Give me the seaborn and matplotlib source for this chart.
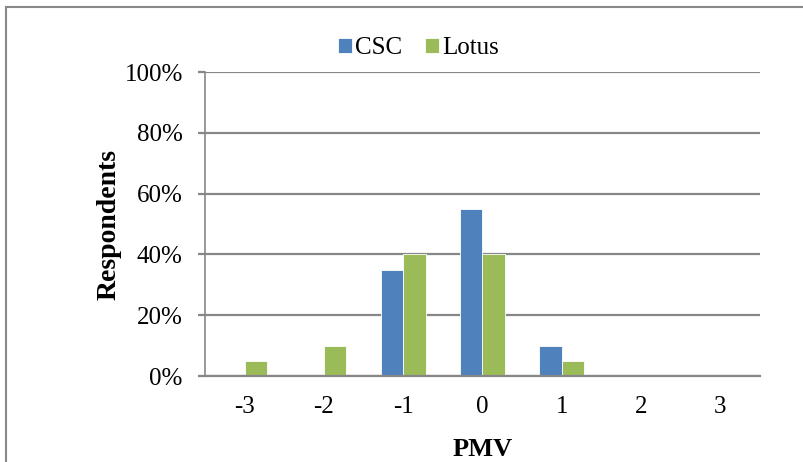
import matplotlib
matplotlib.use("Agg")
import matplotlib.pyplot as plt
from matplotlib.patches import Rectangle
from matplotlib.ticker import PercentFormatter
import seaborn as sns
import pandas as pd

# data
pmv = ["-3", "-2", "-1", "0", "1", "2", "3"]
csc = [0.00, 0.00, 0.35, 0.55, 0.10, 0.00, 0.00]
lotus = [0.05, 0.10, 0.40, 0.40, 0.05, 0.00, 0.00]
series = ["CSC", "Lotus"]
colors = ["#4F81BD", "#9BBB59"]

df = pd.DataFrame({
    "PMV": pmv * 2,
    "value": csc + lotus,
    "site": [series[0]] * len(pmv) + [series[1]] * len(pmv),
})

sns.set_style("white")
plt.rcParams['font.family'] = ['Liberation Serif', 'DejaVu Serif']
plt.rcParams['text.color'] = 'black'
plt.rcParams['axes.labelcolor'] = 'black'

fig = plt.figure(figsize=(8.04, 4.62), dpi=100)
ax = fig.add_axes([0.255, 0.186, 0.69, 0.658])

sns.barplot(data=df, x="PMV", y="value", hue="site", order=pmv,
            hue_order=series, palette=colors, width=0.57, ax=ax,
            edgecolor="white", linewidth=0.6, saturation=1)

ax.set_ylim(0, 1)
ax.set_yticks([0, 0.2, 0.4, 0.6, 0.8, 1.0])
ax.yaxis.set_major_formatter(PercentFormatter(1.0, decimals=0))
ax.grid(axis="y", color="#878787", linewidth=1.6)
ax.set_axisbelow(True)
for s in ["top", "right"]:
    ax.spines[s].set_visible(False)
ax.spines["left"].set_color("#878787")
ax.spines["bottom"].set_color("#878787")
ax.spines["left"].set_linewidth(1.2)
ax.spines["bottom"].set_linewidth(1.6)
ax.tick_params(axis="y", length=5, width=1.6, color="#878787", labelcolor="black",
               labelsize=18, pad=11, left=True)
ax.tick_params(axis="x", length=0, labelsize=18, labelcolor="black", pad=14)

ax.set_xlabel("PMV", fontsize=19, fontweight="bold", labelpad=15)
ax.set_ylabel("Respondents", fontsize=20, fontweight="bold", labelpad=2)

ax.legend(loc="lower center", bbox_to_anchor=(0.385, 1.01), ncol=2, frameon=False,
          fontsize=18, handlelength=0.55, handleheight=0.55, handletextpad=0.15,
          columnspacing=0.9, borderaxespad=0)

# outer chart frame (runs off the right and bottom edges)
fig.patches.append(Rectangle((6 / 804, -0.05), 1.1, 1 - 7 / 462 + 0.05,
                             transform=fig.transFigure, fill=False,
                             edgecolor="#888888", linewidth=1.5))

fig.savefig("out.png", dpi=100)
